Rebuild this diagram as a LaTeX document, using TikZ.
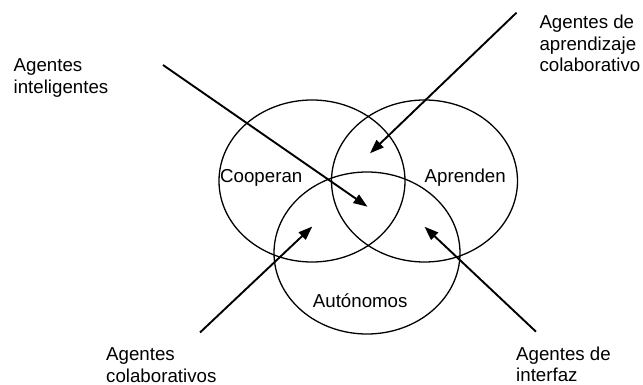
\documentclass[tikz,border=0pt]{standalone}
\usepackage{fontspec}
\setmainfont{Liberation Sans}
\usetikzlibrary{shapes.geometric,arrows.meta}
\begin{document}
\begin{tikzpicture}[x=1pt,y=-1pt,
  set/.style={draw,ellipse,line width=1.3pt,minimum width=186pt,minimum height=162pt,inner sep=0pt},
  lbl/.style={font=\fontsize{18.7}{21.5}\selectfont,inner sep=0pt,align=left,anchor=base west},
  ray/.style={line width=1.9pt,-{Triangle[length=14pt,width=10pt]}}]
\useasboundingbox (0,0) rectangle (643,385);

% the three overlapping sets
\node[set] (coop) at (312,181) {};
\node[set] (apr) at (424.5,181) {};
\node[set] (aut) at (367,253) {};

% set names
\node[lbl] (tcoop) at (220,182.3) {Cooperan};
\node[lbl] (tapr) at (424.5,182.3) {Aprenden};
\node[lbl] (taut) at (312.7,307.3) {Autónomos};

% agent families (base anchor sits on the last line)
\node[lbl] (intel) at (13.5,93.5) {Agentes\\inteligentes};
\node[lbl] (aprcol) at (539.3,71.7) {Agentes de\\aprendizaje\\colaborativo};
\node[lbl] (colab) at (106,382.3) {Agentes\\colaborativos};
\node[lbl] (inter) at (516,381.7) {Agentes de\\interfaz};

% ray ends
\coordinate (s1) at (163,65);      \coordinate (e1) at (367.5,206.7);
\coordinate (s2) at (516.5,12.7);  \coordinate (e2) at (370,153.3);
\coordinate (s3) at (200,332.5);   \coordinate (e3) at (312.3,226.5);
\coordinate (s4) at (536,331.7);   \coordinate (e4) at (424.5,226.7);

\draw[ray] (s1) -- (e1);
\draw[ray] (s2) -- (e2);
\draw[ray] (s3) -- (e3);
\draw[ray] (s4) -- (e4);
\end{tikzpicture}
\end{document}
